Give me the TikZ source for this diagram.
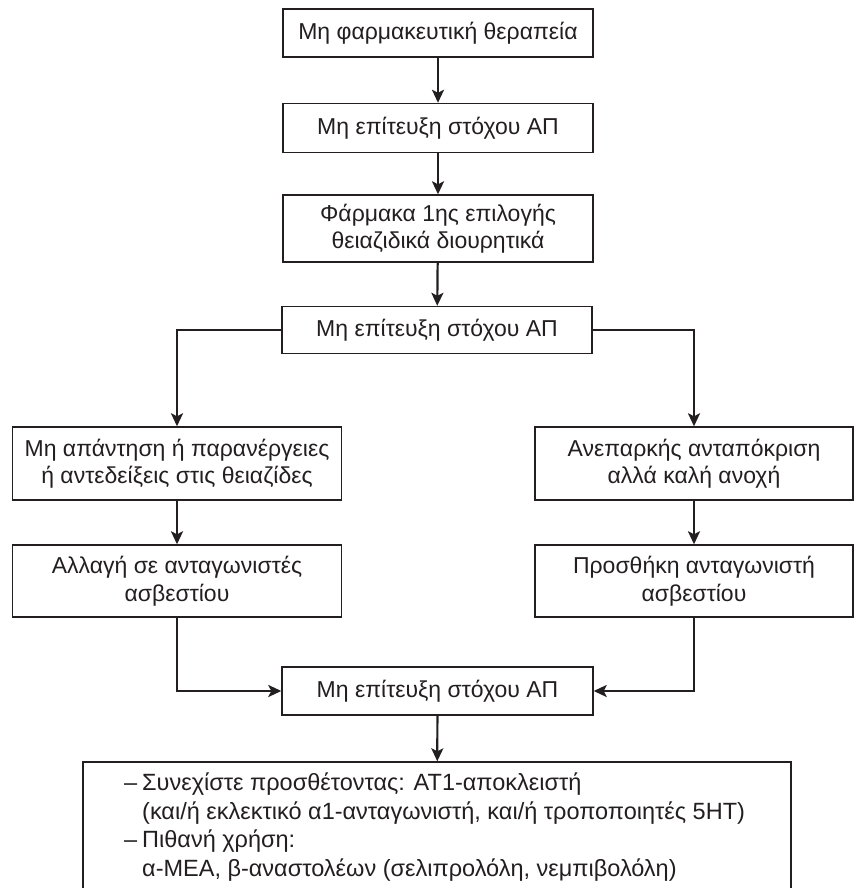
\documentclass[tikz,border=0pt]{standalone}
\usepackage{fontspec}
\setmainfont{Liberation Sans}
\usetikzlibrary{arrows.meta,positioning}
\definecolor{ink}{HTML}{231F20}
\begin{document}
\begin{tikzpicture}[x=1pt,y=-1pt,
  box/.style={draw=ink,line width=1.4pt,rectangle,inner sep=0pt,align=center,text=ink,
    font=\fontsize{23}{27.5}\selectfont},
  conn/.style={draw=ink,line width=2.2pt,-{Stealth[length=13pt,width=12pt,inset=3pt]}}]
\useasboundingbox (0,0) rectangle (854,888);
\fill[white] (0,0) rectangle (854,888);
\node[box,minimum width=310pt,minimum height=48pt] (b1) at (438,33) {Μη φαρμακευτική θεραπεία};
\node[box,minimum width=310pt,minimum height=49pt] (b2) at (438,128) {Μη επίτευξη στόχου ΑΠ};
\node[box,minimum width=310pt,minimum height=67pt] (b3) at (438,228.5) {Φάρμακα 1ης επιλογής\\θειαζιδικά διουρητικά};
\node[box,minimum width=310pt,minimum height=47pt] (b4) at (437,330) {Μη επίτευξη στόχου ΑΠ};
\node[box,minimum width=329pt,minimum height=73pt] (b5) at (177,463.5) {Μη απάντηση ή παρανέργειες\\ή αντεδείξεις στις θειαζίδες};
\node[box,minimum width=329pt,minimum height=72pt] (b6) at (177,581) {Αλλαγή σε ανταγωνιστές\\ασβεστίου};
\node[box,minimum width=318pt,minimum height=73pt] (b8) at (694,463.5) {Ανεπαρκής ανταπόκριση\\αλλά καλή ανοχή};
\node[box,minimum width=318pt,minimum height=72pt] (b9) at (694,581) {Προσθήκη ανταγωνιστή\\ασβεστίου};
\node[box,minimum width=311pt,minimum height=48pt] (b7) at (437.5,691) {Μη επίτευξη στόχου ΑΠ};
\node[box,minimum width=708pt,minimum height=160pt] (b10) at (437,842) {};
\node[anchor=north west,inner sep=0pt,align=left,text=ink,font=\fontsize{23.5}{28.5}\selectfont] (b10t) at (124,773)
 {\makebox[18pt][l]{–}Συνεχίστε προσθέτοντας: ΑΤ1-αποκλειστή\\
  \hspace*{18pt}(και/ή εκλεκτικό α1-ανταγωνιστή, και/ή τροποποιητές 5HT)\\
  \makebox[18pt][l]{–}Πιθανή χρήση:\\
  \hspace*{18pt}α-ΜΕΑ, β-αναστολέων (σελιπρολόλη, νεμπιβολόλη)};
\draw[conn] (b1) -- (b2);
\draw[conn] (b2) -- (b3);
\draw[conn] (b3) -- (b4);
\draw[conn] (b4.west) -| (b5.north);
\draw[conn] (b4.east) -| (b8.north);
\draw[conn] (b5) -- (b6);
\draw[conn] (b8) -- (b9);
\draw[conn] (b6.south) |- (b7.west);
\draw[conn] (b9.south) |- (b7.east);
\draw[conn] (b7) -- (b10);
\end{tikzpicture}
\end{document}
